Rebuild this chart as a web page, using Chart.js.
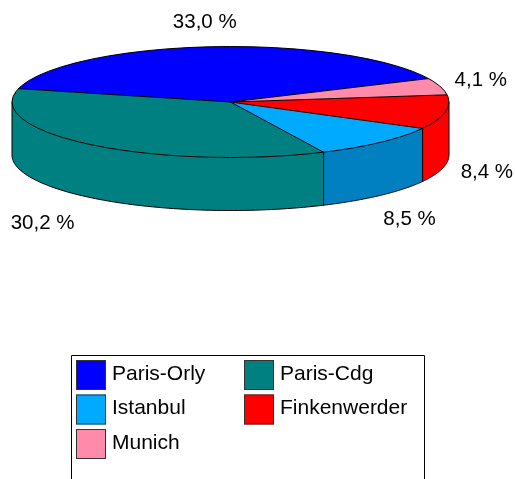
<!DOCTYPE html>
<html>
<head>
<meta charset="utf-8">
<script src="https://cdn.jsdelivr.net/npm/chart.js@4"></script>
<style>
  html, body { margin: 0; padding: 0; background: #fff; }
  #wrap { width: 515px; height: 479px; }
</style>
</head>
<body>
<div id="wrap"><canvas id="c" width="515" height="479"></canvas></div>
<script>
// ---- data ----
const categories = ['Paris-Orly', 'Paris-Cdg', 'Istanbul', 'Finkenwerder', 'Munich'];
const values = [33.0, 30.2, 8.5, 8.4, 4.1];
const topColors = ['#0000FF', '#008080', '#00AAFF', '#FF0000', '#FF8AAA'];
const sideColors = ['#0000C0', '#008080', '#0080C0', '#FF0000', '#C06080'];

// ---- layout / style constants ----
const PX = 230.5, PY = 102, RY = 55.5, DEPTH = 53, R = 218.5;
const LABEL_FONT = '20.5px "Liberation Sans", Arial, sans-serif';
const LEGEND_FONT = '21px "Liberation Sans", Arial, sans-serif';

function fmt(v) { return v.toFixed(1).replace('.', ',') + ' %'; }

function pt(theta, dy) {
  return [PX - R * Math.cos(theta), PY + RY * Math.sin(theta) + (dy || 0)];
}

const pie3d = {
  id: 'pie3d',
  beforeDatasetsDraw(chart) {
    const ctx = chart.ctx;
    const arcs = chart.getDatasetMeta(0).data;
    // sides
    arcs.forEach((arc, i) => {
      const a1 = arc.startAngle, a2 = arc.endAngle;
      for (let n = -3; n <= 3; n++) {
        const f1 = n * 2 * Math.PI, f2 = f1 + Math.PI;
        const t1 = Math.max(a1, f1), t2 = Math.min(a2, f2);
        if (t2 <= t1) continue;
        const N = 80;
        ctx.beginPath();
        for (let s = 0; s <= N; s++) {
          const t = t1 + (t2 - t1) * s / N;
          const p = pt(t);
          if (s === 0) ctx.moveTo(p[0], p[1]); else ctx.lineTo(p[0], p[1]);
        }
        for (let s = N; s >= 0; s--) {
          const t = t1 + (t2 - t1) * s / N;
          const p = pt(t, DEPTH);
          ctx.lineTo(p[0], p[1]);
        }
        ctx.closePath();
        ctx.fillStyle = sideColors[i];
        ctx.fill();
        ctx.strokeStyle = '#000';
        ctx.lineWidth = 1;
        ctx.beginPath();
        let p = pt(t1); ctx.moveTo(p[0], p[1]);
        p = pt(t1, DEPTH); ctx.lineTo(p[0], p[1]);
        for (let s = 1; s <= N; s++) {
          const t = t1 + (t2 - t1) * s / N;
          const q = pt(t, DEPTH);
          ctx.lineTo(q[0], q[1]);
        }
        p = pt(t2); ctx.lineTo(p[0], p[1]);
        ctx.stroke();
      }
    });
    // transform for the top surface
    const a0 = arcs[0];
    ctx.save();
    ctx.translate(PX, PY);
    ctx.scale(-1, RY / a0.outerRadius);
    ctx.translate(-a0.x, -a0.y);
  },
  afterDatasetsDraw(chart) {
    const ctx = chart.ctx;
    ctx.restore();
    const arcs = chart.getDatasetMeta(0).data;
    ctx.strokeStyle = '#000';
    ctx.lineWidth = 1;
    ctx.beginPath();
    ctx.ellipse(PX, PY, R, RY, 0, 0, Math.PI * 2);
    ctx.stroke();
    arcs.forEach(arc => {
      const p = pt(arc.startAngle);
      ctx.beginPath();
      ctx.moveTo(PX, PY);
      ctx.lineTo(p[0], p[1]);
      ctx.stroke();
    });
    // labels
    ctx.font = LABEL_FONT;
    ctx.fillStyle = '#000';
    ctx.textAlign = 'center';
    ctx.textBaseline = 'middle';
    arcs.forEach((arc, i) => {
      const tm = (arc.startAngle + arc.endAngle) / 2;
      const cphi = -Math.cos(tm), sphi = -Math.sin(tm);
      const txt = fmt(values[i]);
      const w = ctx.measureText(txt).width, h = 20;
      const front = Math.sin(tm) > 0;
      const rx = R + 16 + (front && cphi < 0 ? 30 : 0);
      const ry = RY + 16 + (front ? 6 : 0);
      const x = PX + rx * cphi + cphi * w / 2;
      const y = PY - ry * sphi + (front ? DEPTH : 0) - sphi * h / 2;
      ctx.fillText(txt, x, y + 1);
    });
  },
  afterDraw(chart) {
    const ctx = chart.ctx;
    const items = Chart.overrides.pie.plugins.legend.labels.generateLabels(chart);
    ctx.strokeStyle = '#000';
    ctx.lineWidth = 1;
    ctx.beginPath();
    ctx.moveTo(71.5, 480);
    ctx.lineTo(71.5, 355.5);
    ctx.lineTo(424.5, 355.5);
    ctx.lineTo(424.5, 480);
    ctx.stroke();
    ctx.font = LEGEND_FONT;
    ctx.textAlign = 'left';
    ctx.textBaseline = 'middle';
    items.forEach((it, i) => {
      const col = i % 2, row = Math.floor(i / 2);
      const x = 76 + col * 168, y = 360 + row * 34.5;
      ctx.fillStyle = it.fillStyle;
      ctx.fillRect(x, y, 30, 30);
      ctx.strokeStyle = '#333';
      ctx.lineWidth = 1;
      ctx.strokeRect(x + 0.5, y + 0.5, 29, 29);
      ctx.fillStyle = '#000';
      ctx.fillText(it.text, x + 36, y + 14);
    });
  }
};

new Chart(document.getElementById('c'), {
  type: 'pie',
  data: {
    labels: categories,
    datasets: [{
      data: values,
      backgroundColor: topColors,
      borderWidth: 0,
      radius: R,
      rotation: -65,
      clip: false
    }]
  },
  options: {
    responsive: false,
    animation: false,
    events: [],
    rotation: -65,
    layout: { padding: 0 },
    plugins: { legend: { display: false }, tooltip: { enabled: false } }
  },
  plugins: [pie3d]
});
</script>
</body>
</html>
